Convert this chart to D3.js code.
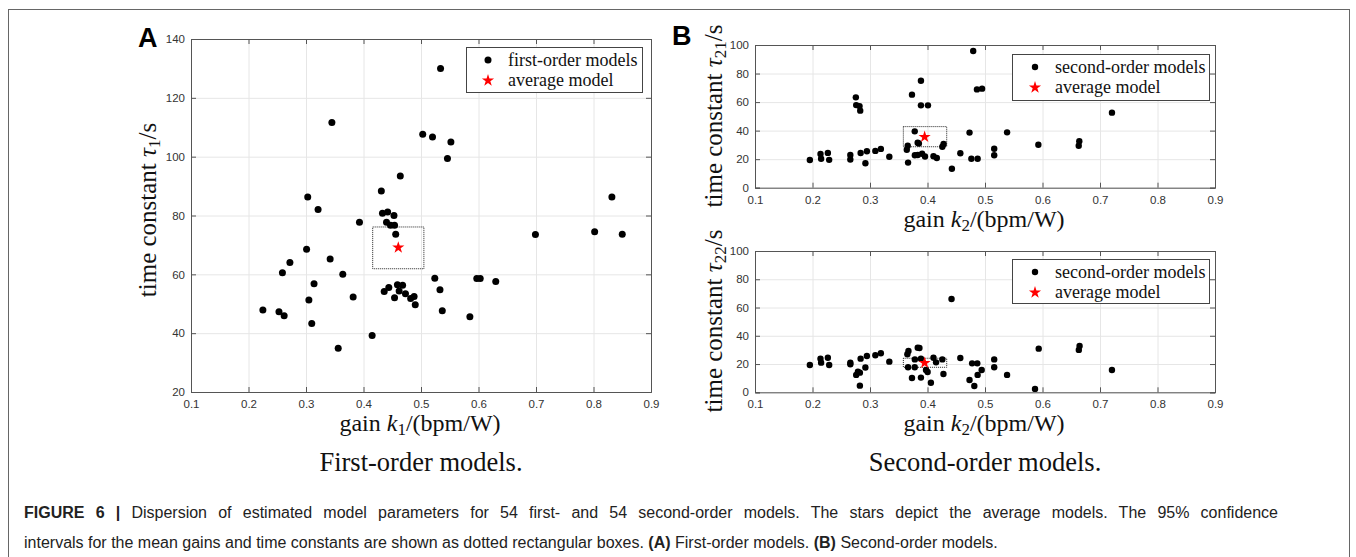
<!DOCTYPE html>
<html>
<head>
<meta charset="utf-8">
<script src="https://cdn.jsdelivr.net/npm/d3@7"></script>
<style>
  body { margin: 0; background: #fff; }
  .tick text { font-family: "Liberation Sans", Arial, sans-serif; font-size: 11.5px; fill: #333; }
  .serif { font-family: "Liberation Serif", "Times New Roman", serif; fill: #111; }
  .caption { font-family: "Liberation Sans", Arial, sans-serif; fill: #222; }
</style>
</head>
<body>
<svg id="fig"></svg>
<script>
// ---- data ----
const gainTicks = [0.1, 0.2, 0.3, 0.4, 0.5, 0.6, 0.7, 0.8, 0.9];
const tauTicksA = [20, 40, 60, 80, 100, 120, 140];
const tauTicksB = [0, 20, 40, 60, 80, 100];

// first-order models: gain k1, time constant tau1
const k1 = [0.534, 0.345, 0.503, 0.520, 0.552, 0.546, 0.464, 0.431, 0.303, 0.321,
  0.433, 0.442, 0.453, 0.393, 0.440, 0.447, 0.454, 0.456, 0.699, 0.802,
  0.832, 0.850, 0.301, 0.342, 0.272, 0.259, 0.364, 0.314, 0.225, 0.253,
  0.262, 0.305, 0.310, 0.382, 0.356, 0.415, 0.436, 0.444, 0.459, 0.468,
  0.462, 0.454, 0.473, 0.482, 0.488, 0.490, 0.524, 0.533, 0.537, 0.585,
  0.597, 0.603, 0.630];
const tau1 = [130.0, 111.6, 107.6, 106.7, 105.0, 99.4, 93.4, 88.3, 86.3, 82.0,
  80.8, 81.2, 80.0, 77.7, 77.7, 76.7, 76.7, 73.6, 73.5, 74.5,
  86.3, 73.6, 68.5, 65.2, 64.0, 60.5, 60.0, 56.8, 47.9, 47.3,
  45.9, 51.3, 43.3, 52.3, 34.9, 39.2, 54.2, 55.5, 56.5, 56.3,
  54.3, 52.0, 53.4, 51.8, 52.5, 49.7, 58.7, 54.8, 47.6, 45.6,
  58.6, 58.6, 57.6];

// second-order models: gain k2, time constant tau21
const k2Top = [0.4795, 0.3886, 0.373, 0.2754, 0.276, 0.2818, 0.283, 0.3886, 0.4008, 0.486,
  0.4949, 0.7208, 0.3778, 0.4731, 0.5384, 0.5928, 0.664, 0.663, 0.3829, 0.3656,
  0.364, 0.4258, 0.428, 0.1954, 0.2139, 0.215, 0.2267, 0.229, 0.2658, 0.2658,
  0.2837, 0.2946, 0.292, 0.3093, 0.3189, 0.3336, 0.3662, 0.378, 0.383, 0.3906,
  0.3957, 0.4104, 0.4162, 0.4571, 0.4763, 0.4872, 0.4424, 0.516, 0.516, 0.385];
const tau21 = [95.8, 75.0, 65.2, 63.3, 57.9, 57.2, 54.0, 57.7, 57.7, 68.9,
  69.4, 52.6, 39.5, 38.6, 38.8, 30.1, 32.5, 29.4, 31.5, 29.4,
  26.6, 28.7, 30.6, 19.4, 23.6, 20.3, 24.4, 19.5, 22.9, 19.8,
  24.3, 25.5, 17.1, 25.8, 27.2, 21.7, 17.6, 22.7, 22.9, 23.8,
  21.9, 22.0, 20.8, 24.1, 20.3, 20.3, 13.3, 27.3, 22.7, 31.0];

// second-order models: gain k2, time constant tau22
const k2Bottom = [0.4418, 0.5934, 0.6645, 0.6632, 0.7208, 0.587, 0.5384, 0.516, 0.516, 0.4942,
  0.4866, 0.4872, 0.4776, 0.4731, 0.4814, 0.4571, 0.4277, 0.4258, 0.4149, 0.4104,
  0.4059, 0.4002, 0.3886, 0.3886, 0.383, 0.386, 0.378, 0.3778, 0.373, 0.3669,
  0.365, 0.3662, 0.3336, 0.3189, 0.3093, 0.2946, 0.292, 0.2837, 0.2824, 0.276,
  0.279, 0.2824, 0.2658, 0.2658, 0.229, 0.2267, 0.215, 0.2139, 0.1954, 0.3974];
const tau22 = [66.0, 30.9, 32.8, 30.0, 15.8, 2.4, 12.3, 23.3, 17.7, 15.8,
  20.5, 12.3, 20.5, 8.7, 4.5, 24.3, 13.0, 23.3, 21.2, 24.5,
  6.8, 14.4, 10.4, 23.8, 31.6, 31.4, 23.3, 17.7, 10.1, 29.2,
  26.9, 17.7, 21.7, 27.6, 26.2, 25.7, 17.5, 23.8, 13.9, 12.3,
  14.5, 4.7, 21.0, 19.8, 19.3, 24.5, 21.0, 23.8, 19.3, 15.8];

// average models [gain, tau] and 95% confidence boxes [gainLo, gainHi, tauLo, tauHi]
const avgFirst = [0.4605, 69.1];
const ciFirst = [0.416, 0.505, 61.9, 76.1];
const avgTau21 = [0.395, 35.6];
const ciTau21 = [0.358, 0.4334, 28.7, 42.8];
const avgTau22 = [0.395, 20.8];
const ciTau22 = [0.358, 0.4334, 17.7, 24.1];

// ---- drawing ----
const W = 1356, H = 557;
const svg = d3.select("#fig").attr("width", W).attr("height", H);
svg.append("rect").attr("width", W).attr("height", H).attr("fill", "#fff");
// outer frame of the figure
svg.append("rect")
  .attr("x", 8.5).attr("y", 9.5).attr("width", 1341).attr("height", 620)
  .attr("fill", "none").attr("stroke", "#666").attr("stroke-width", 1);

function drawPanel(opt) {
  const x = d3.scaleLinear().domain([0.1, 0.9]).range([opt.left, opt.right]);
  const y = d3.scaleLinear().domain(opt.yDomain).range([opt.bottom, opt.top]);
  const w = opt.right - opt.left, h = opt.bottom - opt.top;
  const g = svg.append("g");

  // grid
  g.append("g")
    .attr("transform", `translate(0,${opt.bottom})`)
    .call(d3.axisBottom(x).tickValues(gainTicks).tickSize(-h).tickFormat(""))
    .call(s => s.select(".domain").remove())
    .selectAll("line").attr("stroke", "#e6e6e6");
  g.append("g")
    .attr("transform", `translate(${opt.left},0)`)
    .call(d3.axisLeft(y).tickValues(opt.yTicks).tickSize(-w).tickFormat(""))
    .call(s => s.select(".domain").remove())
    .selectAll("line").attr("stroke", "#e6e6e6");

  // axes with inward ticks on all four sides
  const axCol = "#555";
  const bx = g.append("g").attr("transform", `translate(0,${opt.bottom})`)
    .call(d3.axisBottom(x).tickValues(gainTicks).tickSize(-5).tickPadding(8).tickFormat(d3.format(".1f")));
  const tx = g.append("g").attr("transform", `translate(0,${opt.top})`)
    .call(d3.axisTop(x).tickValues(gainTicks).tickSize(-5).tickFormat(""));
  const ly = g.append("g").attr("transform", `translate(${opt.left},0)`)
    .call(d3.axisLeft(y).tickValues(opt.yTicks).tickSize(-5).tickPadding(6));
  const ry = g.append("g").attr("transform", `translate(${opt.right},0)`)
    .call(d3.axisRight(y).tickValues(opt.yTicks).tickSize(-5).tickFormat(""));
  [bx, tx, ly, ry].forEach(a => {
    a.select(".domain").attr("stroke", axCol);
    a.selectAll(".tick line").attr("stroke", axCol);
  });

  // confidence box
  g.append("rect")
    .attr("x", x(opt.ci[0])).attr("y", y(opt.ci[3]))
    .attr("width", x(opt.ci[1]) - x(opt.ci[0]))
    .attr("height", y(opt.ci[2]) - y(opt.ci[3]))
    .attr("fill", "none").attr("stroke", "#222").attr("stroke-width", 1)
    .attr("stroke-dasharray", "1,1");

  // points
  g.selectAll(".pt").data(opt.gx.map((d, i) => [d, opt.ty[i]])).enter()
    .append("circle").attr("class", "pt")
    .attr("cx", d => x(d[0])).attr("cy", d => y(d[1]))
    .attr("r", opt.r).attr("fill", "#000");

  const star = d3.symbol().type(d3.symbolStar).size(46);
  g.append("path").attr("d", star())
    .attr("transform", `translate(${x(opt.avg[0])},${y(opt.avg[1])})`)
    .attr("fill", "#ff0000");

  // legend
  const L = opt.legend;
  g.append("rect").attr("x", L.x0 + 0.5).attr("y", L.y0 + 0.5)
    .attr("width", L.x1 - L.x0).attr("height", L.y1 - L.y0)
    .attr("fill", "#fff").attr("stroke", "#444").attr("stroke-width", 1);
  g.append("circle").attr("cx", L.mx).attr("cy", L.y0 + 13).attr("r", opt.r).attr("fill", "#000");
  g.append("path").attr("d", star())
    .attr("transform", `translate(${L.mx},${L.y0 + 33.5})`).attr("fill", "#ff0000");
  g.append("text").attr("class", "serif").attr("x", L.tx).attr("y", L.y0 + 19)
    .style("font-size", "18px").text(L.label);
  g.append("text").attr("class", "serif").attr("x", L.tx).attr("y", L.y0 + 39)
    .style("font-size", "18px").text("average model");

  // x label: gain k_n/(bpm/W)
  const xl = g.append("text").attr("class", "serif")
    .attr("x", opt.xLabelX).attr("y", opt.xLabelY)
    .attr("text-anchor", "middle").style("font-size", "24px");
  xl.append("tspan").text("gain ");
  xl.append("tspan").style("font-style", "italic").text("k");
  xl.append("tspan").attr("dy", 4).style("font-size", "17px").text(opt.kSub);
  xl.append("tspan").attr("dy", -4).text("/(bpm/W)");

  // y label: time constant tau_n/s
  const yl = g.append("text").attr("class", "serif")
    .attr("transform", `translate(${opt.yLabelX},${opt.yLabelC}) rotate(-90)`)
    .attr("text-anchor", "middle").style("font-size", "25px");
  yl.append("tspan").text("time constant ");
  yl.append("tspan").style("font-style", "italic").text("τ");
  yl.append("tspan").attr("dy", 4).style("font-size", "17px").text(opt.tSub);
  yl.append("tspan").attr("dy", -4).text("/s");
}

drawPanel({
  left: 191, right: 651, top: 39, bottom: 392,
  yDomain: [20, 140], yTicks: tauTicksA,
  gx: k1, ty: tau1, avg: avgFirst, ci: ciFirst, r: 3.5,
  legend: { x0: 466, x1: 642, y0: 47, y1: 92, mx: 488, tx: 508, label: "first-order models" },
  xLabelX: 420, xLabelY: 431, yLabelX: 156, yLabelC: 210, kSub: "1", tSub: "1"
});
drawPanel({
  left: 755, right: 1215, top: 45, bottom: 187.7,
  yDomain: [0, 100], yTicks: tauTicksB,
  gx: k2Top, ty: tau21, avg: avgTau21, ci: ciTau21, r: 3.2,
  legend: { x0: 1012, x1: 1209, y0: 54, y1: 100, mx: 1035, tx: 1055, label: "second-order models" },
  xLabelX: 984, xLabelY: 227, yLabelX: 722, yLabelC: 116, kSub: "2", tSub: "21"
});
drawPanel({
  left: 755, right: 1215, top: 251, bottom: 392.3,
  yDomain: [0, 100], yTicks: tauTicksB,
  gx: k2Bottom, ty: tau22, avg: avgTau22, ci: ciTau22, r: 3.2,
  legend: { x0: 1012, x1: 1209, y0: 259, y1: 303, mx: 1035, tx: 1055, label: "second-order models" },
  xLabelX: 984, xLabelY: 431, yLabelX: 722, yLabelC: 321, kSub: "2", tSub: "22"
});

// panel letters
svg.append("text").attr("x", 138).attr("y", 47)
  .style("font-family", "Liberation Sans, Arial, sans-serif").style("font-weight", "bold")
  .style("font-size", "27px").text("A");
svg.append("text").attr("x", 672).attr("y", 45)
  .style("font-family", "Liberation Sans, Arial, sans-serif").style("font-weight", "bold")
  .style("font-size", "27px").text("B");

// sub captions
svg.append("text").attr("class", "serif").attr("x", 421).attr("y", 471)
  .attr("text-anchor", "middle").style("font-size", "26.5px").text("First-order models.");
svg.append("text").attr("class", "serif").attr("x", 985).attr("y", 471)
  .attr("text-anchor", "middle").style("font-size", "26.5px").text("Second-order models.");

// figure caption (first line justified to the full width)
const cap1 = svg.append("text").attr("class", "caption").attr("x", 24).attr("y", 518)
  .style("font-size", "16px");
cap1.append("tspan").style("font-weight", "bold").text("FIGURE 6 | ");
cap1.append("tspan").text("Dispersion of estimated model parameters for 54 first- and 54 second-order models. The stars depict the average models. The 95% confidence");
const spaces = cap1.text().split(" ").length - 1;
const len1 = cap1.node().getComputedTextLength();
cap1.style("word-spacing", ((1278 - 24 - len1) / spaces) + "px");

const cap2 = svg.append("text").attr("class", "caption").attr("x", 24).attr("y", 548)
  .style("font-size", "16px");
cap2.append("tspan").text("intervals for the mean gains and time constants are shown as dotted rectangular boxes. ");
cap2.append("tspan").style("font-weight", "bold").text("(A)");
cap2.append("tspan").text(" First-order models. ");
cap2.append("tspan").style("font-weight", "bold").text("(B)");
cap2.append("tspan").text(" Second-order models.");
</script>
</body>
</html>
